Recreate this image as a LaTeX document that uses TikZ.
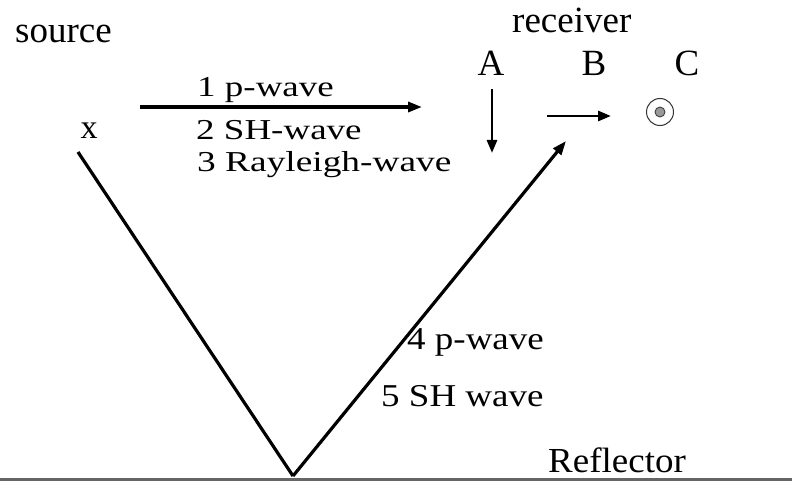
\documentclass[tikz,border=0pt]{standalone}
\usepackage{fontspec}
\setmainfont{Liberation Serif}
\usetikzlibrary{arrows.meta}
\begin{document}
\begin{tikzpicture}[x=1pt,y=-1pt,
  lbl/.style={inner sep=0pt,anchor=base west,font=\fontsize{37}{40}\selectfont},
  wlbl/.style={lbl,yscale=0.78},
  ray/.style={line width=3.2pt},
  arr/.style={line width=3.2pt,-{Triangle[length=14pt,width=10pt]}},
  sarr/.style={line width=2.8pt,-{Triangle[length=13pt,width=10pt]}}]
\useasboundingbox (0,0) rectangle (792,481);
% texts
\node[lbl] (src) at (15,43) {source};
\node[lbl] (rcv) at (512,33) {receiver};
\node[lbl,anchor=base] (A) at (491,76) {A};
\node[lbl,anchor=base] (B) at (594,76) {B};
\node[lbl,anchor=base] (C) at (687,76) {C};
\node[lbl,anchor=base,font=\fontsize{34}{36}\selectfont] (x) at (89,139) {x};
\node[wlbl] (w1) at (197,97) {1 p-wave};
\node[wlbl] (w2) at (196,140) {2 SH-wave};
\node[wlbl,xscale=1.01] (w3) at (197,172) {3 Rayleigh-wave};
\node[lbl,yscale=0.86] (w4) at (407,349) {4 p-wave};
\node[lbl,yscale=0.86] (w5) at (381,406) {5 SH wave};
\node[lbl,yscale=0.95] (refl) at (548,472) {Reflector};
% reflector
\coordinate (rl) at (0,479);
\coordinate (rr) at (792,479);
\draw[line width=3pt,draw=black!60] (rl) -- (rr);
% rays
\coordinate (s) at (78,152);
\coordinate (v) at (293,476);
\coordinate (t) at (566,141);
\draw[ray,line join=miter] (s) -- (v);
\draw[arr] (v) -- (t);
% direct arrow
\coordinate (d1) at (140,107);
\coordinate (d2) at (422,107);
\draw[arr] (d1) -- (d2);
% receiver motions
\coordinate (a1) at (492,89);
\coordinate (a2) at (492,153);
\draw[sarr] (a1) -- (a2);
\coordinate (b1) at (547,116);
\coordinate (b2) at (611,116);
\draw[sarr] (b1) -- (b2);
\node[circle,draw=black!80,line width=1pt,minimum size=27pt,inner sep=0pt] (cc) at (660,112) {};
\node[circle,draw=black!75,fill=black!40,line width=0.9pt,minimum size=10pt,inner sep=0pt] (cd) at (cc) {};
\end{tikzpicture}
\end{document}
